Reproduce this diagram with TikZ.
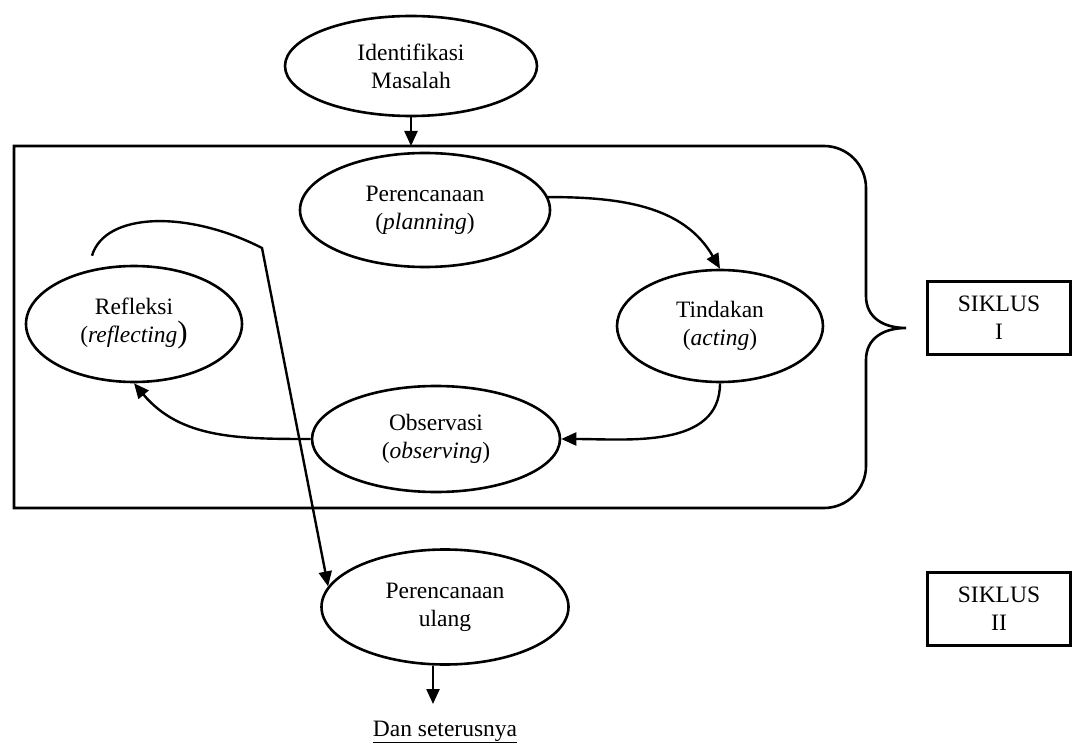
\documentclass[tikz,border=0pt]{standalone}
\usepackage{fontspec}
\setmainfont{Liberation Serif}
\usetikzlibrary{shapes.geometric,arrows.meta}

\begin{document}
\begin{tikzpicture}[x=1pt, y=1pt,
        every node/.style={font=\fontsize{23.5}{28}\selectfont, align=center},
        oval/.style={draw, ellipse, line width=2.6pt, inner sep=0pt},
        siklus/.style={draw, rectangle, line width=2.6pt, minimum width=143pt, minimum height=73pt},
        arr/.style={-{Triangle[length=15pt,width=13pt]}, line width=2.4pt}]
        \useasboundingbox (0,0) rectangle (1072,-749);
        \node[oval, minimum width=252pt, minimum height=100pt] (idm) at (411,-66) {Identifikasi\\Masalah};
        \node[oval, minimum width=250pt, minimum height=114pt] (plan) at (425,-210) {Perencanaan\\(\textit{planning})};
        \node[oval, minimum width=206pt, minimum height=112pt] (act) at (720,-326) {Tindakan\\(\textit{acting})};
        \node[oval, minimum width=248pt, minimum height=106pt] (obs) at (436,-439) {Observasi\\(\textit{observing})};
        \node[oval, minimum width=216pt, minimum height=116pt] (refl) at (134,-324) {Refleksi\\(\textit{reflecting}{\fontsize{31}{31}\selectfont)}};
        \node[oval, minimum width=247pt, minimum height=115pt] (replan) at (445,-607) {Perencanaan\\ulang};
        \node[siklus] (s1) at (999,-318) {SIKLUS\\I};
        \node[siklus] (s2) at (999,-609) {SIKLUS\\II};
        \node[anchor=base, inner sep=0pt] (more) at (445,-736) {\underline{Dan seterusnya}};
        \coordinate (tl) at (14,-146);
        \coordinate (bend) at (262,-248);
        \coordinate (nx) at (433,-704);

        \draw[line width=2.6pt] (tl) -- (824,-146) arc[start angle=90, end angle=0, radius=42]
         -- (866,-296) .. controls (866,-318) and (884,-328) .. (906,-328)
         .. controls (884,-328) and (866,-338) .. (866,-360)
         -- (866,-466) arc[start angle=0, end angle=-90, radius=42] -- (14,-508) -- cycle;

        \draw[arr] (idm.south) -- (idm.south |- tl);
        \draw[arr] (plan.6) to[out=0, in=120] (act.north);
        \draw[arr] (act.south) to[out=-90, in=0] (obs.east);
        \draw[arr] (obs.west) to[out=180, in=-50] (refl.south);
        \draw[arr] ([shift={(-42pt,9pt)}]refl.north) .. controls (105,-212) and (188,-210) .. (bend) -- (replan.170);
        \draw[arr] (replan.south -| nx) -- (nx);
\end{tikzpicture}
\end{document}
